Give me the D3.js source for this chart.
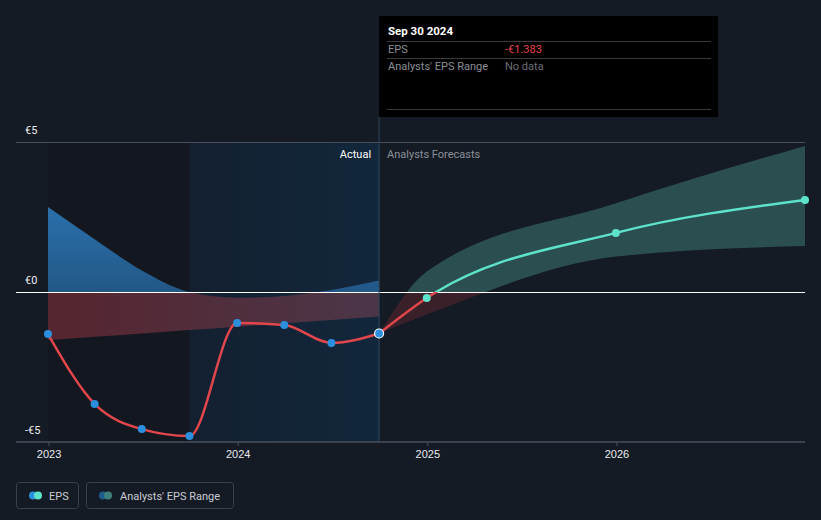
<!DOCTYPE html>
<html><head><meta charset="utf-8">
<script src="https://cdn.jsdelivr.net/npm/d3@7/dist/d3.min.js"></script>
<style>
html,body{margin:0;padding:0;background:#151b25;}
svg{display:block;font-family:Roboto,"Noto Sans",sans-serif;}
</style></head>
<body><svg id="c" width="821" height="520"></svg>
<script>
const actualDates = ["2022-12-31","2023-03-31","2023-06-30","2023-09-30","2023-12-31","2024-03-31","2024-06-30","2024-09-30"];
const actualEps = [-1.40, -3.73, -4.57, -4.80, -1.03, -1.10, -1.70, -1.383];
const pastRangeHigh = [2.83, 1.76, 0.72, 0.0, -0.19, -0.13, 0.07, 0.38];
const pastRangeLow = [-1.60, -1.49, -1.38, -1.27, -1.16, -1.04, -0.93, -0.82];
const forecastDates = ["2024-09-30","2024-12-31","2025-12-31","2026-12-31"];
const forecastEps = [-1.383, -0.20, 1.97, 3.07];
const forecastLow = [-1.383, -0.75, 1.18, 1.53];
const forecastHigh = [-1.383, 0.68, 2.96, 4.87];
const yTicks = [5, 0, -5];
const yTickLabels = ["€5", "€0", "-€5"];
const xTickYears = ["2023", "2024", "2025", "2026"];

const parse = d3.timeParse("%Y-%m-%d");
const svg = d3.select("#c");
const x = d3.scaleTime().domain([parse("2022-12-31"), parse("2026-12-31")]).range([48, 805]);
const y = d3.scaleLinear().domain([-5, 5]).range([442, 142]);

const actual = actualDates.map((d,i)=>({date:parse(d), v:actualEps[i], lo:pastRangeLow[i], hi:pastRangeHigh[i]}));
const forecast = forecastDates.map((d,i)=>({date:parse(d), v:forecastEps[i], lo:forecastLow[i], hi:forecastHigh[i]}));

const defs = svg.append("defs");
defs.append("clipPath").attr("id","above").append("rect").attr("x",0).attr("y",0).attr("width",821).attr("height",y(0));
defs.append("clipPath").attr("id","below").append("rect").attr("x",0).attr("y",y(0)).attr("width",821).attr("height",520-y(0));
const hg = defs.append("linearGradient").attr("id","hl").attr("x1","0").attr("x2","1").attr("y1","0").attr("y2","0");
hg.append("stop").attr("offset","0").attr("stop-color","#132030");
hg.append("stop").attr("offset","1").attr("stop-color","#12273c");
const bg = defs.append("linearGradient").attr("id","blueband").attr("x1","0").attr("x2","0").attr("y1","0").attr("y2","1");
bg.append("stop").attr("offset","0").attr("stop-color","#2a70ab");
bg.append("stop").attr("offset","1").attr("stop-color","#1e4a72");
const rg = defs.append("linearGradient").attr("id","redband").attr("x1","0").attr("x2","1").attr("y1","0").attr("y2","0");
rg.append("stop").attr("offset","0").attr("stop-color","#5a2630");
rg.append("stop").attr("offset","1").attr("stop-color","#4e3749");

const xSplit = x(parse("2023-09-30"));
const xNow = x(parse("2024-09-30"));

// shaded regions
svg.append("rect").attr("x",x(parse("2022-12-31"))).attr("y",y(5)).attr("width",xSplit-x(parse("2022-12-31"))).attr("height",y(-5)-y(5)).attr("fill","#13171f");
svg.append("rect").attr("x",xSplit).attr("y",y(5)).attr("width",xNow-xSplit).attr("height",y(-5)-y(5)).attr("fill","url(#hl)");

// gridline €5
svg.append("line").attr("x1",16).attr("x2",805).attr("y1",y(5)+0.5).attr("y2",y(5)+0.5).attr("stroke","#4a505b").attr("stroke-width",1);

// past range band
const band = d3.area().x(d=>x(d.date)).y0(d=>y(d.lo)).y1(d=>y(d.hi)).curve(d3.curveMonotoneX);
svg.append("path").datum(actual).attr("d",band).attr("fill","url(#blueband)").attr("clip-path","url(#above)");
svg.append("path").datum(actual).attr("d",band).attr("fill","url(#redband)").attr("opacity",0.95).attr("clip-path","url(#below)");
// forecast band
svg.append("path").datum(forecast).attr("d",band).attr("fill","#2c5253").attr("opacity",0.95).attr("clip-path","url(#above)");
svg.append("path").datum(forecast).attr("d",band).attr("fill","#3a2129").attr("clip-path","url(#below)");

// zero line
svg.append("line").attr("x1",16).attr("x2",805).attr("y1",y(0)+0.5).attr("y2",y(0)+0.5).attr("stroke","#ffffff").attr("stroke-width",1.2).attr("shape-rendering","crispEdges");

// x axis
const xAxis = d3.axisBottom(x).tickValues(xTickYears.map(s=>parse(s+"-01-01"))).tickFormat((d,i)=>xTickYears[i]).tickSize(5).tickSizeOuter(0);
const gx = svg.append("g").attr("transform",`translate(0,${y(-5)})`).call(xAxis);
gx.select(".domain").remove();
gx.selectAll(".tick line").attr("stroke","#4a505b").attr("y1",0).attr("y2",4);
gx.selectAll(".tick text").attr("fill","#e8eaed").attr("font-size",11).attr("dy","1.0em").attr("y",5);
svg.append("line").attr("x1",16).attr("x2",805).attr("y1",y(-5)).attr("y2",y(-5)).attr("stroke","#4a505b").attr("stroke-width",1.5);

// y labels
svg.selectAll("text.yl").data(yTicks).enter().append("text").attr("class","yl")
  .attr("x",25).attr("y",d=>y(d)-8).text((d,i)=>yTickLabels[i]).attr("fill","#e8eaed").attr("font-size",11);

// vertical now line
svg.append("line").attr("x1",xNow).attr("x2",xNow).attr("y1",117).attr("y2",y(-5)).attr("stroke","#2d4862").attr("stroke-width",1);

svg.append("text").attr("x",xNow-8).attr("y",158).attr("text-anchor","end").attr("fill","#ffffff").attr("font-size",11).text("Actual");
svg.append("text").attr("x",xNow+8).attr("y",158).attr("fill","#8b9099").attr("font-size",11).text("Analysts Forecasts");

// lines
const line = d3.line().x(d=>x(d.date)).y(d=>y(d.v)).curve(d3.curveMonotoneX);
svg.append("path").datum(actual).attr("d",line).attr("fill","none").attr("stroke","#e0464b").attr("stroke-width",2.5);
svg.append("path").datum(forecast).attr("d",line).attr("fill","none").attr("stroke","#e0464b").attr("stroke-width",2.5).attr("clip-path","url(#below)");
svg.append("path").datum(forecast).attr("d",line).attr("fill","none").attr("stroke","#5ee3cb").attr("stroke-width",2.5).attr("clip-path","url(#above)");

// points
svg.selectAll("circle.a").data(actual).enter().append("circle").attr("class","a")
  .attr("cx",d=>x(d.date)).attr("cy",d=>y(d.v)).attr("r",(d,i)=>i===actual.length-1?4.5:4)
  .attr("fill","#2b8fde").attr("stroke",(d,i)=>i===actual.length-1?"#ffffff":"none").attr("stroke-width",1.2);
svg.selectAll("circle.f").data(forecast.slice(1)).enter().append("circle").attr("class","f")
  .attr("cx",d=>x(d.date)).attr("cy",d=>y(d.v)).attr("r",4).attr("fill","#5ee3cb");

// tooltip
const tt = svg.append("g");
tt.append("rect").attr("x",xNow).attr("y",16).attr("width",339).attr("height",101).attr("fill","#000000");
tt.append("text").attr("x",388).attr("y",35).attr("fill","#ffffff").attr("font-size",11.5).attr("font-weight","bold").text("Sep 30 2024");
[41,58,109].forEach(yy=>tt.append("line").attr("x1",387).attr("x2",711).attr("y1",yy+0.5).attr("y2",yy+0.5).attr("stroke","#3a3a3a").attr("stroke-width",1));
tt.append("text").attr("x",388).attr("y",53).attr("fill","#8b8f96").attr("font-size",11).text("EPS");
tt.append("text").attr("x",505).attr("y",53).attr("fill","#e5434a").attr("font-size",11).text("-€" + Math.abs(actualEps[actualEps.length-1]).toFixed(3));
tt.append("text").attr("x",388).attr("y",70).attr("fill","#8b8f96").attr("font-size",11).text("Analysts' EPS Range");
tt.append("text").attr("x",505).attr("y",70).attr("fill","#6b6f76").attr("font-size",11).text("No data");

// legend
const lg = svg.append("g");
lg.append("rect").attr("x",16.5).attr("y",482.5).attr("width",62).attr("height",26).attr("rx",3).attr("fill","none").attr("stroke","#3b404b");
lg.append("circle").attr("cx",33).attr("cy",495.5).attr("r",4).attr("fill","#2b8fde");
lg.append("circle").attr("cx",38).attr("cy",495.5).attr("r",4).attr("fill","#5ee3cb");
lg.append("text").attr("x",49).attr("y",499.5).attr("fill","#c8ccd2").attr("font-size",11).text("EPS");
lg.append("rect").attr("x",86.5).attr("y",482.5).attr("width",147).attr("height",26).attr("rx",3).attr("fill","none").attr("stroke","#3b404b");
lg.append("circle").attr("cx",103).attr("cy",495.5).attr("r",4).attr("fill","#1d5b8a");
lg.append("circle").attr("cx",108).attr("cy",495.5).attr("r",4).attr("fill","#3e807d");
lg.append("text").attr("x",120).attr("y",499.5).attr("fill","#c8ccd2").attr("font-size",11).text("Analysts' EPS Range");
</script></body></html>
